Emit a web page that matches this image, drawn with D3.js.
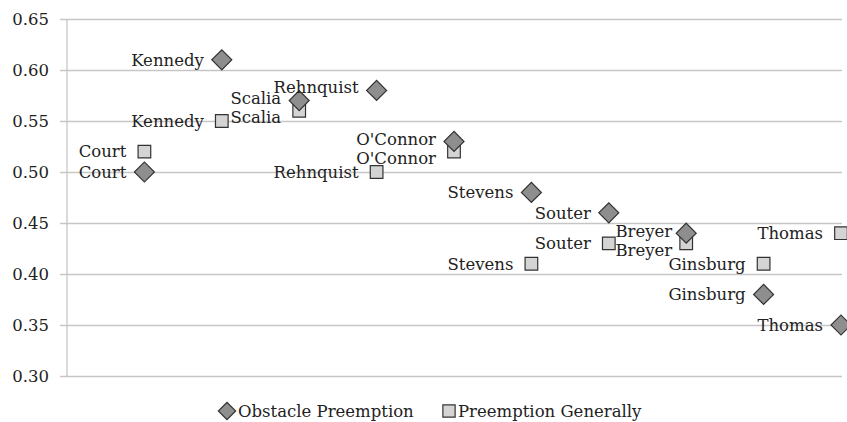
<!DOCTYPE html>
<html><head><meta charset="utf-8">
<script src="https://cdn.jsdelivr.net/npm/d3@7"></script>
<style>body{margin:0;background:#fff;} svg{display:block;}</style>
</head><body><svg id="c" width="847" height="422"></svg>
<script>
const justices = ["Court","Kennedy","Scalia","Rehnquist","O'Connor","Stevens","Souter","Breyer","Ginsburg","Thomas"];
const obstacle = [0.50,0.61,0.57,0.58,0.53,0.48,0.46,0.44,0.38,0.35];
const general  = [0.52,0.55,0.56,0.50,0.52,0.41,0.43,0.43,0.41,0.44];
const yTicks = [0.30,0.35,0.40,0.45,0.50,0.55,0.60,0.65];
const seriesNames = ["Obstacle Preemption","Preemption Generally"];

const font = "'DejaVu Serif', serif";
const fs = 16.5;
const svg = d3.select("#c");
const x = d3.scaleLinear().domain([0,10]).range([67,841]);
const y = d3.scaleLinear().domain([0.30,0.65]).range([376,19]);
const gridRight = 842;

// gridlines
const yAxis = d3.axisLeft(y).tickValues(yTicks).tickFormat(d3.format(".2f")).tickSize(-(gridRight-67)).tickPadding(18);
const g = svg.append("g").attr("transform","translate(67,0)").call(yAxis);
g.select(".domain").remove();
g.selectAll(".tick line").attr("stroke","#c6c6c6").attr("stroke-width",1.3).attr("x1",-7).attr("x2",gridRight-67);
g.selectAll(".tick text").attr("font-family",font).attr("font-size",fs).attr("fill","#222").attr("x",-18);
svg.append("line").attr("x1",67).attr("x2",67).attr("y1",y(0.65)).attr("y2",y(0.30)).attr("stroke","#c6c6c6").attr("stroke-width",1.3);

const diamond = d3.symbol().type(d3.symbolSquare).size(200);
const square = d3.symbol().type(d3.symbolSquare).size(160);

// label layout: separate overlapping label pairs
const lh = 19;
const labels = [];
const markers = [];
justices.forEach((j,i)=>{
  let yo = y(obstacle[i]), yg = y(general[i]);
  markers.push({i, x:x(i+1), y:yo, hw:10}, {i, x:x(i+1), y:yg, hw:6.5});
  let lo = yo, lg = yg;
  if (Math.abs(yo-yg) < lh) {
    const mid = (yo+yg)/2 + 2;
    if (yo <= yg) { lo = mid - lh/2; lg = mid + lh/2; }
    else { lg = mid - lh/2; lo = mid + lh/2; }
  }
  labels.push({name:j, i, x:x(i+1), y:lo});
  labels.push({name:j, i, x:x(i+1), y:lg});
});

const pts = svg.append("g");
pts.selectAll("path.g").data(general).join("path")
  .attr("d",square).attr("transform",(d,i)=>`translate(${x(i+1)},${y(d)})`)
  .attr("fill","#d4d4d4").attr("stroke","#333").attr("stroke-width",1.2);
pts.selectAll("path.o").data(obstacle).join("path")
  .attr("d",diamond).attr("transform",(d,i)=>`translate(${x(i+1)},${y(d)}) rotate(45)`)
  .attr("fill","#8e8e8e").attr("stroke","#333").attr("stroke-width",1.2);

const lt = svg.append("g").selectAll("text").data(labels).join("text")
  .attr("x",d=>d.x-18).attr("y",d=>d.y).attr("dy","0.35em")
  .attr("text-anchor","end").attr("font-family",font).attr("font-size",fs).attr("fill","#222")
  .text(d=>d.name);

// keep labels off markers of other categories: first move closer, then nudge up
lt.each(function(d){
  const w = this.getComputedTextLength();
  const hit = (gap, yy) => markers.some(m => m.i!==d.i &&
      m.x+m.hw > d.x-gap-w && m.x-m.hw < d.x-gap && m.y+6 > yy-7 && m.y-6 < yy+7);
  let gap = 18, yy = d.y;
  while (gap > 9 && hit(gap, yy)) gap--;
  if (hit(gap, yy)) {
    gap = 18;
    for (let k=0;k<15 && hit(gap,yy);k++) yy -= 1;
  }
  d3.select(this).attr("x", d.x-gap).attr("y", yy);
});

// legend
const leg = svg.append("g");
leg.append("path").attr("d",d3.symbol().type(d3.symbolSquare).size(150)).attr("transform","translate(227,411) rotate(45)")
  .attr("fill","#8e8e8e").attr("stroke","#333").attr("stroke-width",1.2);
leg.append("text").attr("x",238).attr("y",411).attr("dy","0.35em").attr("font-family",font).attr("font-size",fs).attr("fill","#222").text(seriesNames[0]);
leg.append("path").attr("d",d3.symbol().type(d3.symbolSquare).size(150)).attr("transform","translate(449,411)")
  .attr("fill","#d4d4d4").attr("stroke","#333").attr("stroke-width",1.2);
leg.append("text").attr("x",458).attr("y",411).attr("dy","0.35em").attr("font-family",font).attr("font-size",fs).attr("fill","#222").text(seriesNames[1]);
</script></body></html>
